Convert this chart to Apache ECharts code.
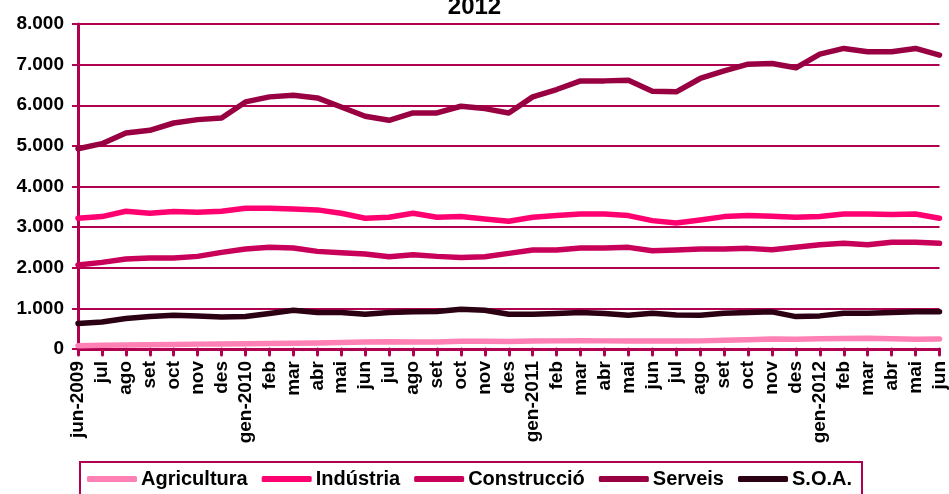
<!DOCTYPE html>
<html><head><meta charset="utf-8">
<script src="https://cdn.jsdelivr.net/npm/echarts@6/dist/echarts.min.js"></script>
<style>html,body{margin:0;padding:0;background:#fff}#c{width:949px;height:494px}</style>
</head><body><div id="c"></div>
<script>
const categories = ['jun-2009','jul','ago','set','oct','nov','des','gen-2010','feb','mar','abr','mai','jun','jul','ago','set','oct','nov','des','gen-2011','feb','mar','abr','mai','jun','jul','ago','set','oct','nov','des','gen-2012','feb','mar','abr','mai','jun'];
const agricultura = [80,90,100,105,110,120,125,130,135,140,150,160,170,180,175,170,190,190,185,195,200,205,200,195,195,195,200,215,230,245,240,250,260,265,250,240,245];
const industria = [3218,3259,3391,3342,3383,3366,3391,3465,3465,3449,3424,3342,3218,3243,3342,3243,3259,3202,3144,3243,3284,3325,3325,3284,3160,3103,3177,3259,3284,3267,3243,3259,3325,3325,3308,3325,3218];
const construccio = [2066,2132,2214,2239,2239,2280,2379,2461,2502,2486,2403,2370,2337,2272,2321,2280,2255,2272,2354,2436,2436,2486,2486,2502,2420,2436,2461,2461,2477,2444,2502,2568,2601,2568,2626,2626,2601];
const serveis = [4930,5054,5317,5383,5563,5646,5687,6082,6206,6247,6181,5958,5728,5630,5811,5811,5975,5918,5811,6206,6387,6600,6600,6617,6346,6330,6659,6848,7012,7029,6922,7259,7399,7317,7317,7399,7235];
const soa = [626,667,749,798,831,815,790,798,872,955,897,897,856,897,914,922,979,955,856,856,872,897,872,831,880,839,831,880,897,914,798,815,880,880,897,914,914];
const seriesNames = ['Agricultura','Indústria','Construcció','Serveis','S.O.A.'];
const seriesColors = ['#FF80B4','#FF0070','#C8005A','#990042','#2A0012'];
const seriesData = [agricultura, industria, construccio, serveis, soa];

const chart = echarts.init(document.getElementById('c'));
const axisColor = '#B0004F';
const font = 'Liberation Sans, Arial';
chart.setOption({
  animation: false,
  title: { text: '2012', left: 'center', top: -10, textStyle: { fontFamily: font, fontWeight: 'bold', fontSize: 24, color: '#000' } },
  grid: { left: 78, right: 9, top: 24, bottom: 145, containLabel: false },
  legend: {
    left: 80, top: 462,
    padding: [7, 10, 12, 7],
    borderColor: axisColor, borderWidth: 2,
    icon: 'roundRect', itemWidth: 50, itemHeight: 6, itemGap: 14,
    textStyle: { fontFamily: font, fontWeight: 'bold', fontSize: 20, color: '#000', padding: [0, 0, 0, -1] },
    data: seriesNames
  },
  xAxis: {
    type: 'category', boundaryGap: false, data: categories,
    axisLine: { lineStyle: { color: axisColor, width: 3 } },
    axisTick: { show: true, interval: 0, length: 6, lineStyle: { color: axisColor, width: 3, cap: 'round' } },
    axisLabel: { interval: 0, rotate: 90, fontFamily: font, fontWeight: 'bold', fontSize: 19, color: '#000', margin: 12 },
    splitLine: { show: false }
  },
  yAxis: {
    type: 'value', min: 0, max: 8000, interval: 1000,
    axisLine: { show: true, lineStyle: { color: axisColor, width: 3 } },
    axisTick: { show: true, length: 6, lineStyle: { color: axisColor, width: 2 } },
    axisLabel: { fontFamily: font, fontWeight: 'bold', fontSize: 19, color: '#000', margin: 14,
      formatter: v => v === 0 ? '0' : (v/1000) + '.000' },
    splitLine: { lineStyle: { color: axisColor, width: 2 } }
  },
  series: seriesNames.map((n, i) => ({
    name: n, type: 'line', data: seriesData[i], symbol: 'none',
    lineStyle: { width: 5.5, color: seriesColors[i], cap: 'round', join: 'round' },
    itemStyle: { color: seriesColors[i] }
  }))
});
</script></body></html>
